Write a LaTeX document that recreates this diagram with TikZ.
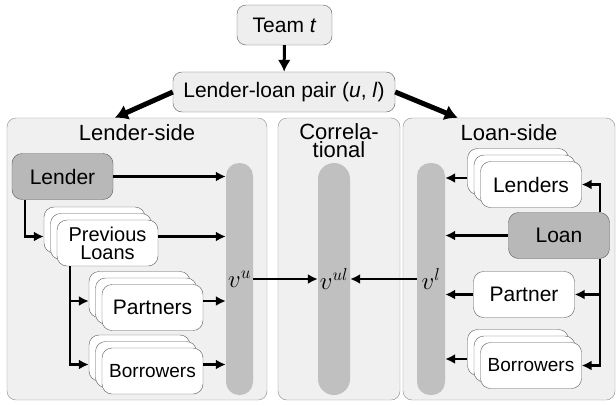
\documentclass[tikz,border=0pt]{standalone}
\usepackage{fontspec}
\setmainfont{Liberation Sans}
\usetikzlibrary{arrows.meta,calc}

\definecolor{panelbg}{RGB}{240,240,240}
\definecolor{topbg}{RGB}{238,238,238}
\definecolor{keygray}{RGB}{184,184,184}
\definecolor{bargray}{RGB}{192,192,192}
\definecolor{edgegray}{RGB}{90,90,90}

\tikzset{
  panel/.style={draw=edgegray!70, fill=panelbg, rounded corners=9pt, minimum height=282pt},
  topbox/.style={draw=edgegray, fill=topbg, rounded corners=9pt, minimum height=40pt},
  card/.style={draw=edgegray, fill=white, rounded corners=10pt, minimum width=101pt, minimum height=46pt, align=center, inner sep=1pt},
  keybox/.style={card, fill=keygray},
  bar/.style={fill=bargray, rounded corners=13pt, minimum height=232pt, inner sep=0pt, font=\fontsize{25}{26}\selectfont},
  arr/.style={line width=2.3pt, -{Latex[length=10pt,width=10pt]}},
  bigarr/.style={line width=5pt, -{Latex[length=13pt,width=16pt]}},
}

\begin{document}
\begin{tikzpicture}[x=1pt,y=-1pt,font=\fontsize{21}{22}\selectfont]
\useasboundingbox (0,0) rectangle (616,405);

% top of the tree
\node[topbox, minimum width=95pt] (team) at (284.5,25) {Team \textit{t}};
\node[topbox, minimum width=222pt] (pair) at (284,92) {Lender-loan pair (\textit{u}, \textit{l})};
\draw[line width=3pt, -{Latex[length=12pt,width=13pt]}] (team) -- (pair);

% the three panels
\node[panel, minimum width=260pt] (lside) at (137,259) {};
\node[panel, minimum width=122pt] (corr) at (339,259) {};
\node[panel, minimum width=212pt] (rside) at (509,259) {};
\node[font=\fontsize{22}{22}\selectfont] (ltitle) at (137,133) {Lender-side};
\node[align=center, font=\fontsize{22}{18}\selectfont] (ctitle) at (339,141) {Correla-\\tional};
\node[font=\fontsize{22}{22}\selectfont] (rtitle) at (509,133) {Loan-side};
\draw[bigarr] (pair.west) -- ($(lside.north west)+(108,0)$);
\draw[bigarr] (pair.east) -- ($(rside.north west)+(55,0)$);

% embedding bars
\node[bar, minimum width=27pt] (vu) at (239.5,279) {$v^u$};
\node[bar, minimum width=32pt, rounded corners=16pt] (vul) at (334,279) {$v^{ul}$};
\node[bar, minimum width=28pt] (vl) at (431,279) {$v^l$};
\draw[arr] (vu) -- (vul);
\draw[arr] (vl) -- (vul);

% lender side
\node[keybox] (lender) at (62.5,176.5) {Lender};
\foreach \d/\n in {13/c,6.5/b} \node[card] (prev\n) at (107.5-\d,243-\d) {};
\node[card, font=\fontsize{20}{18}\selectfont] (preva) at (107.5,243) {Previous\\Loans};
\foreach \d/\n in {13/c,6.5/b} \node[card] (lpart\n) at (152.5-\d,307.5-\d) {};
\node[card] (lparta) at (152.5,307.5) {Partners};
\foreach \d/\n in {13/c,6.5/b} \node[card] (lbor\n) at (152.5-\d,371-\d) {};
\node[card, font=\fontsize{19}{20}\selectfont] (lbora) at (152.5,371) {Borrowers};

\draw[arr] (lender) -- (lender -| vu.west);
\draw[arr] ($(lender.south west)+(13,0)$) |- (prevb.west -| prevc.west);
\draw[arr] (prevb.west -| preva.east) -- (prevb.west -| vu.west);
\draw[arr] ($(preva.south west)+(13,0)$) |- (lpartb.west -| lpartc.west);
\draw[arr] ($(preva.south west)+(13,0)$) |- (lborb.west -| lborc.west);
\draw[arr] (lpartb.west -| lparta.east) -- (lpartb.west -| vu.west);
\draw[arr] (lborb.west -| lbora.east) -- (lborb.west -| vu.west);

% loan side
\foreach \d/\n in {13/c,6.5/b} \node[card] (len\n) at (531-\d,184.5-\d) {};
\node[card] (lena) at (531,184.5) {Lenders};
\node[keybox] (loan) at (559,235.5) {Loan};
\node[card] (rpart) at (524,294.5) {Partner};
\foreach \d/\n in {13/c,6.5/b} \node[card] (rbor\n) at (531-\d,365.5-\d) {};
\node[card, font=\fontsize{19}{20}\selectfont] (rbora) at (531,365.5) {Borrowers};

\coordinate (rail) at (600,0);
\draw[arr] (rail |- loan.north) |- (lena.east);
\draw[arr] (rail |- loan.south) |- (rbora.east);
\draw[arr] (rail |- rpart) -- (rpart.east);
\draw[arr] (lenb.west -| lenc.west) -- (lenb.west -| vl.east);
\draw[arr] (loan) -- (loan -| vl.east);
\draw[arr] (rpart) -- (rpart -| vl.east);
\draw[arr] (rborb.west -| rborc.west) -- (rborb.west -| vl.east);
\end{tikzpicture}
\end{document}
